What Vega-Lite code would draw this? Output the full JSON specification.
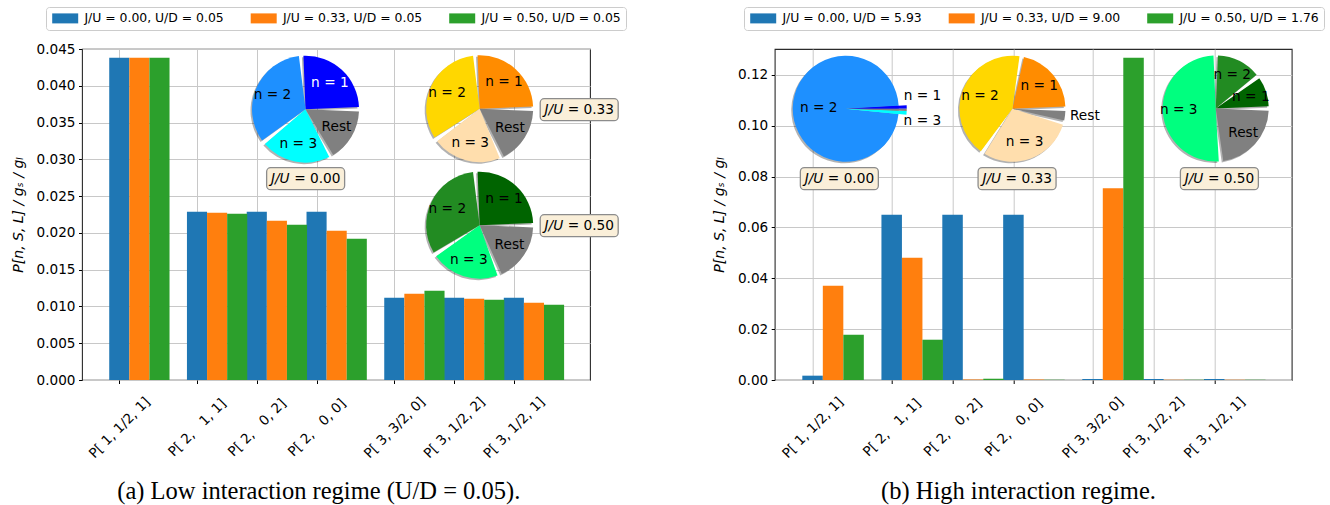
{
  "$schema": "https://vega.github.io/schema/vega-lite/v6.json",
  "background": "white",
  "padding": {"left": 10, "top": 5, "right": 5, "bottom": 5},
  "bounds": "flush",
  "spacing": 184.7,
  "config": {
    "font": "DejaVu Sans",
    "view": {"stroke": "#2b2b2b", "strokeWidth": 1.1},
    "axis": {
      "labelFont": "DejaVu Sans", "labelFontSize": 13.6, "labelColor": "#000000",
      "tickColor": "#000000", "tickSize": 3.5, "tickWidth": 1, "labelPadding": 3.5,
      "domain": false, "gridColor": "#c8c8c8", "gridWidth": 1, "labelOverlap": false,
      "titleFont": "DejaVu Sans", "titleFontSize": 14, "titleFontStyle": "italic",
      "titleFontWeight": "normal", "titleColor": "#000000"
    },
    "legend": {"labelFont": "DejaVu Sans", "labelFontSize": 12.4, "labelColor": "#000000"},
    "title": {"font": "Liberation Serif", "fontSize": 24.5, "fontWeight": "normal", "color": "#000000"}
  },
  "resolve": {
    "scale": {"color": "independent", "x": "independent", "y": "independent", "theta": "independent"},
    "legend": {"color": "independent"}
  },
  "datasets": {
    "barsA": [
      {"pos": 0, "series": "J/U = 0.00, U/D = 0.05", "value": 0.0438},
      {"pos": 0, "series": "J/U = 0.33, U/D = 0.05", "value": 0.0438},
      {"pos": 0, "series": "J/U = 0.50, U/D = 0.05", "value": 0.0438},
      {"pos": 1.3, "series": "J/U = 0.00, U/D = 0.05", "value": 0.02288},
      {"pos": 1.3, "series": "J/U = 0.33, U/D = 0.05", "value": 0.02274},
      {"pos": 1.3, "series": "J/U = 0.50, U/D = 0.05", "value": 0.02261},
      {"pos": 2.3, "series": "J/U = 0.00, U/D = 0.05", "value": 0.02288},
      {"pos": 2.3, "series": "J/U = 0.33, U/D = 0.05", "value": 0.02166},
      {"pos": 2.3, "series": "J/U = 0.50, U/D = 0.05", "value": 0.02111},
      {"pos": 3.3, "series": "J/U = 0.00, U/D = 0.05", "value": 0.02288},
      {"pos": 3.3, "series": "J/U = 0.33, U/D = 0.05", "value": 0.0203},
      {"pos": 3.3, "series": "J/U = 0.50, U/D = 0.05", "value": 0.01921},
      {"pos": 4.6, "series": "J/U = 0.00, U/D = 0.05", "value": 0.01119},
      {"pos": 4.6, "series": "J/U = 0.33, U/D = 0.05", "value": 0.01173},
      {"pos": 4.6, "series": "J/U = 0.50, U/D = 0.05", "value": 0.01214},
      {"pos": 5.6, "series": "J/U = 0.00, U/D = 0.05", "value": 0.01119},
      {"pos": 5.6, "series": "J/U = 0.33, U/D = 0.05", "value": 0.01105},
      {"pos": 5.6, "series": "J/U = 0.50, U/D = 0.05", "value": 0.01092},
      {"pos": 6.6, "series": "J/U = 0.00, U/D = 0.05", "value": 0.01119},
      {"pos": 6.6, "series": "J/U = 0.33, U/D = 0.05", "value": 0.01051},
      {"pos": 6.6, "series": "J/U = 0.50, U/D = 0.05", "value": 0.01024}
    ],
    "barsB": [
      {"pos": 0, "series": "J/U = 0.00, U/D = 5.93", "value": 0.0017},
      {"pos": 0, "series": "J/U = 0.33, U/D = 9.00", "value": 0.0371},
      {"pos": 0, "series": "J/U = 0.50, U/D = 1.76", "value": 0.0178},
      {"pos": 1.3, "series": "J/U = 0.00, U/D = 5.93", "value": 0.065},
      {"pos": 1.3, "series": "J/U = 0.33, U/D = 9.00", "value": 0.0481},
      {"pos": 1.3, "series": "J/U = 0.50, U/D = 1.76", "value": 0.01585},
      {"pos": 2.3, "series": "J/U = 0.00, U/D = 5.93", "value": 0.065},
      {"pos": 2.3, "series": "J/U = 0.33, U/D = 9.00", "value": 0.0002},
      {"pos": 2.3, "series": "J/U = 0.50, U/D = 1.76", "value": 0.0005},
      {"pos": 3.3, "series": "J/U = 0.00, U/D = 5.93", "value": 0.065},
      {"pos": 3.3, "series": "J/U = 0.33, U/D = 9.00", "value": 0.0002},
      {"pos": 3.3, "series": "J/U = 0.50, U/D = 1.76", "value": 0.0001},
      {"pos": 4.6, "series": "J/U = 0.00, U/D = 5.93", "value": 0.0004},
      {"pos": 4.6, "series": "J/U = 0.33, U/D = 9.00", "value": 0.0754},
      {"pos": 4.6, "series": "J/U = 0.50, U/D = 1.76", "value": 0.1268},
      {"pos": 5.6, "series": "J/U = 0.00, U/D = 5.93", "value": 0.0004},
      {"pos": 5.6, "series": "J/U = 0.33, U/D = 9.00", "value": 0.0001},
      {"pos": 5.6, "series": "J/U = 0.50, U/D = 1.76", "value": 0.0001},
      {"pos": 6.6, "series": "J/U = 0.00, U/D = 5.93", "value": 0.0004},
      {"pos": 6.6, "series": "J/U = 0.33, U/D = 9.00", "value": 0.0001},
      {"pos": 6.6, "series": "J/U = 0.50, U/D = 1.76", "value": 0.0001}
    ],
    "piesA": [
      {"pie": "J0", "cx": 3.115, "cy": 0.03682, "n": 1, "key": "J0 n1", "label": "n = 1", "frac": 0.263},
      {"pie": "J0", "cx": 3.115, "cy": 0.03682, "n": 2, "key": "J0 n2", "label": "n = 2", "frac": 0.343},
      {"pie": "J0", "cx": 3.115, "cy": 0.03682, "n": 3, "key": "J0 n3", "label": "n = 3", "frac": 0.224},
      {"pie": "J0", "cx": 3.115, "cy": 0.03682, "n": 4, "key": "Rest", "label": "Rest", "frac": 0.170},
      {"pie": "J33", "cx": 6.028, "cy": 0.03688, "n": 1, "key": "J33 n1", "label": "n = 1", "frac": 0.263},
      {"pie": "J33", "cx": 6.028, "cy": 0.03688, "n": 2, "key": "J33 n2", "label": "n = 2", "frac": 0.334},
      {"pie": "J33", "cx": 6.028, "cy": 0.03688, "n": 3, "key": "J33 n3", "label": "n = 3", "frac": 0.221},
      {"pie": "J33", "cx": 6.028, "cy": 0.03688, "n": 4, "key": "Rest", "label": "Rest", "frac": 0.182},
      {"pie": "J50", "cx": 6.028, "cy": 0.02105, "n": 1, "key": "J50 n1", "label": "n = 1", "frac": 0.263},
      {"pie": "J50", "cx": 6.028, "cy": 0.02105, "n": 2, "key": "J50 n2", "label": "n = 2", "frac": 0.329},
      {"pie": "J50", "cx": 6.028, "cy": 0.02105, "n": 3, "key": "J50 n3", "label": "n = 3", "frac": 0.219},
      {"pie": "J50", "cx": 6.028, "cy": 0.02105, "n": 4, "key": "Rest", "label": "Rest", "frac": 0.189}
    ],
    "piesB": [
      {"pie": "J0", "cx": 0.545, "cy": 0.1067, "n": 1, "key": "J0 n1", "label": "n = 1", "frac": 0.009},
      {"pie": "J0", "cx": 0.545, "cy": 0.1067, "n": 2, "key": "J0 n2", "label": "n = 2", "frac": 0.975},
      {"pie": "J0", "cx": 0.545, "cy": 0.1067, "n": 3, "key": "J0 n3", "label": "n = 3", "frac": 0.010},
      {"pie": "J0", "cx": 0.545, "cy": 0.1067, "n": 4, "key": "Rest", "label": "Rest", "frac": 0.006},
      {"pie": "J33", "cx": 3.284, "cy": 0.1067, "n": 1, "key": "J33 n1", "label": "n = 1", "frac": 0.222},
      {"pie": "J33", "cx": 3.284, "cy": 0.1067, "n": 2, "key": "J33 n2", "label": "n = 2", "frac": 0.433},
      {"pie": "J33", "cx": 3.284, "cy": 0.1067, "n": 3, "key": "J33 n3", "label": "n = 3", "frac": 0.303},
      {"pie": "J33", "cx": 3.284, "cy": 0.1067, "n": 4, "key": "Rest", "label": "Rest", "frac": 0.042},
      {"pie": "J50", "cx": 6.624, "cy": 0.1068, "n": 1, "key": "J50 n1", "label": "n = 1", "frac": 0.103},
      {"pie": "J50", "cx": 6.624, "cy": 0.1068, "n": 2, "key": "J50 n2", "label": "n = 2", "frac": 0.147},
      {"pie": "J50", "cx": 6.624, "cy": 0.1068, "n": 3, "key": "J50 n3", "label": "n = 3", "frac": 0.516},
      {"pie": "J50", "cx": 6.624, "cy": 0.1068, "n": 4, "key": "Rest", "label": "Rest", "frac": 0.234}
    ],
    "boxesA": [
      {"bx": 3.117, "by": 0.02737, "eq": "= 0.00"},
      {"bx": 7.693, "by": 0.03675, "eq": "= 0.33"},
      {"bx": 7.693, "by": 0.02098, "eq": "= 0.50"}
    ],
    "boxesB": [
      {"bx": 0.44, "by": 0.0792, "eq": "= 0.00"},
      {"bx": 3.36, "by": 0.0792, "eq": "= 0.33"},
      {"bx": 6.684, "by": 0.0792, "eq": "= 0.50"}
    ]
  },
  "hconcat": [
    {
      "width": 508,
      "height": 331,
      "title": {"text": "(a) Low interaction regime (U/D = 0.05).", "orient": "bottom", "anchor": "middle", "frame": "bounds", "offset": 20},
      "layer": [
        {
          "data": {"name": "barsA"},
          "transform": [{"filter": {"field": "series", "equal": "J/U = 0.00, U/D = 0.05"}}],
          "mark": {"type": "bar", "orient": "vertical", "width": 20.1, "xOffset": 0},
          "encoding": {
            "x": {"field": "pos", "type": "quantitative",
              "scale": {"domain": [-0.54, 7.79], "nice": false, "zero": false},
              "axis": {"title": null, "values": [0, 1.3, 2.3, 3.3, 4.6, 5.6, 6.6], "grid": true,
                "labelExpr": "['P[ 1, 1/2, 1]','P[ 2,\u00a0\u00a0 1, 1]','P[ 2,\u00a0\u00a0 0, 2]','P[ 2,\u00a0\u00a0 0, 0]','P[ 3, 3/2, 0]','P[ 3, 1/2, 2]','P[ 3, 1/2, 1]'][indexof([0,1.3,2.3,3.3,4.6,5.6,6.6], datum.value)]",
                "labelAngle": -45, "labelAlign": "center", "labelBaseline": "middle", "labelPadding": 44,
                "labelOverlap": false, "labelFlush": false, "labelBound": false}},
            "y": {"field": "value", "type": "quantitative",
              "scale": {"domain": [0, 0.045], "nice": false, "zero": true},
              "axis": {"title": "P[n, S, L] / g\u209b / g\u2097", "values": [0, 0.005, 0.01, 0.015, 0.02, 0.025, 0.03, 0.035, 0.04, 0.045], "tickCount": 10,
                "format": ".3f", "grid": true, "titlePadding": 11, "labelOverlap": false}},
            "color": {"field": "series", "type": "nominal",
              "scale": {
                "domain": ["J/U = 0.00, U/D = 0.05", "J/U = 0.33, U/D = 0.05", "J/U = 0.50, U/D = 0.05", "J0 n1", "J0 n2", "J0 n3", "J33 n1", "J33 n2", "J33 n3", "J50 n1", "J50 n2", "J50 n3", "Rest"],
                "range": ["#1f77b4", "#ff7f0e", "#2ca02c", "#0000ff", "#1e90ff", "#00ffff", "#ff8c00", "#ffd700", "#ffdead", "#006400", "#228b22", "#00ff7f", "#808080"]},
              "legend": {"values": ["J/U = 0.00, U/D = 0.05", "J/U = 0.33, U/D = 0.05", "J/U = 0.50, U/D = 0.05"],
                "title": null, "orient": "none", "legendX": -36, "legendY": -42, "direction": "horizontal",
                "symbolType": "M-1,-1H4.2V1H-1Z", "symbolSize": 100, "symbolStrokeWidth": 0, "symbolOpacity": 1,
                "labelOffset": 21, "columnPadding": 25.5, "padding": 5, "labelLimit": 300,
                "strokeColor": "#cccccc", "fillColor": "#ffffff", "cornerRadius": 3}}
          }
        },
        {
          "data": {"name": "barsA"},
          "transform": [{"filter": {"field": "series", "equal": "J/U = 0.33, U/D = 0.05"}}],
          "mark": {"type": "bar", "orient": "vertical", "width": 20.1, "xOffset": 20.1},
          "encoding": {
            "x": {"field": "pos", "type": "quantitative"},
            "y": {"field": "value", "type": "quantitative", "axis": {"values": [0, 0.005, 0.01, 0.015, 0.02, 0.025, 0.03, 0.035, 0.04, 0.045], "tickCount": 10}},
            "color": {"field": "series", "type": "nominal"}
          }
        },
        {
          "data": {"name": "barsA"},
          "transform": [{"filter": {"field": "series", "equal": "J/U = 0.50, U/D = 0.05"}}],
          "mark": {"type": "bar", "orient": "vertical", "width": 20.1, "xOffset": 40.2},
          "encoding": {
            "x": {"field": "pos", "type": "quantitative"},
            "y": {"field": "value", "type": "quantitative", "axis": {"values": [0, 0.005, 0.01, 0.015, 0.02, 0.025, 0.03, 0.035, 0.04, 0.045], "tickCount": 10}},
            "color": {"field": "series", "type": "nominal"}
          }
        },
        {
          "data": {"name": "piesA"},
          "transform": [{"filter": {"field": "pie", "equal": "J0"}}],
          "encoding": {
            "x": {"field": "cx", "type": "quantitative"},
            "y": {"field": "cy", "type": "quantitative", "axis": {"values": [0, 0.005, 0.01, 0.015, 0.02, 0.025, 0.03, 0.035, 0.04, 0.045], "tickCount": 10}},
            "theta": {"field": "frac", "type": "quantitative", "stack": true, "scale": {"domain": [0, 1], "range": [1.5707963, -4.712389]}},
            "order": {"field": "n", "type": "quantitative"}
          },
          "layer": [
            {"mark": {"type": "arc", "outerRadius": 53.5, "padAngle": 0.085, "xOffset": -1.5, "yOffset": 1.5, "color": "#000000", "opacity": 0.3}, "encoding": {"detail": {"field": "key"}}},
            {"mark": {"type": "arc", "outerRadius": 53.5, "padAngle": 0.085}, "encoding": {"color": {"field": "key", "type": "nominal"}}},
            {"mark": {"type": "text", "radius": 36, "fontSize": 13.7}, "encoding": {"detail": {"field": "key"}, "text": {"field": "label"}, "color": {"condition": {"test": "datum.n === 1", "value": "white"}, "value": "black"}}}
          ]
        },
        {
          "data": {"name": "piesA"},
          "transform": [{"filter": {"field": "pie", "equal": "J33"}}],
          "encoding": {
            "x": {"field": "cx", "type": "quantitative"},
            "y": {"field": "cy", "type": "quantitative", "axis": {"values": [0, 0.005, 0.01, 0.015, 0.02, 0.025, 0.03, 0.035, 0.04, 0.045], "tickCount": 10}},
            "theta": {"field": "frac", "type": "quantitative", "stack": true, "scale": {"domain": [0, 1], "range": [1.5707963, -4.712389]}},
            "order": {"field": "n", "type": "quantitative"}
          },
          "layer": [
            {"mark": {"type": "arc", "outerRadius": 53.5, "padAngle": 0.085, "xOffset": -1.5, "yOffset": 1.5, "color": "#000000", "opacity": 0.3}, "encoding": {"detail": {"field": "key"}}},
            {"mark": {"type": "arc", "outerRadius": 53.5, "padAngle": 0.085}, "encoding": {"color": {"field": "key", "type": "nominal"}}},
            {"mark": {"type": "text", "radius": 36, "fontSize": 13.7, "color": "black"}, "encoding": {"detail": {"field": "key"}, "text": {"field": "label"}}}
          ]
        },
        {
          "data": {"name": "piesA"},
          "transform": [{"filter": {"field": "pie", "equal": "J50"}}],
          "encoding": {
            "x": {"field": "cx", "type": "quantitative"},
            "y": {"field": "cy", "type": "quantitative", "axis": {"values": [0, 0.005, 0.01, 0.015, 0.02, 0.025, 0.03, 0.035, 0.04, 0.045], "tickCount": 10}},
            "theta": {"field": "frac", "type": "quantitative", "stack": true, "scale": {"domain": [0, 1], "range": [1.5707963, -4.712389]}},
            "order": {"field": "n", "type": "quantitative"}
          },
          "layer": [
            {"mark": {"type": "arc", "outerRadius": 53.5, "padAngle": 0.085, "xOffset": -1.5, "yOffset": 1.5, "color": "#000000", "opacity": 0.3}, "encoding": {"detail": {"field": "key"}}},
            {"mark": {"type": "arc", "outerRadius": 53.5, "padAngle": 0.085}, "encoding": {"color": {"field": "key", "type": "nominal"}}},
            {"mark": {"type": "text", "radius": 36, "fontSize": 13.7, "color": "black"}, "encoding": {"detail": {"field": "key"}, "text": {"field": "label"}}}
          ]
        },
        {
          "data": {"name": "boxesA"},
          "encoding": {
            "x": {"field": "bx", "type": "quantitative"},
            "y": {"field": "by", "type": "quantitative", "axis": {"values": [0, 0.005, 0.01, 0.015, 0.02, 0.025, 0.03, 0.035, 0.04, 0.045], "tickCount": 10}}
          },
          "layer": [
            {"mark": {"type": "point", "shape": "M-3.18,-1H3.18A0.365,0.365 0 0 1 3.545,-0.635V0.635A0.365,0.365 0 0 1 3.18,1H-3.18A0.365,0.365 0 0 1 -3.545,0.635V-0.635A0.365,0.365 0 0 1 -3.18,-1Z", "size": 484, "filled": true, "fill": "#faefd9", "stroke": "#8c8c8c", "strokeWidth": 1.3, "opacity": 1}},
            {"mark": {"type": "text", "align": "right", "dx": -16, "fontSize": 13.7, "fontStyle": "italic", "color": "black"}, "encoding": {"text": {"value": "J/U"}}},
            {"mark": {"type": "text", "align": "left", "dx": -11.5, "fontSize": 13.7, "color": "black"}, "encoding": {"text": {"field": "eq"}}}
          ]
        }
      ]
    },
    {
      "width": 517,
      "height": 331,
      "title": {"text": "(b) High interaction regime.", "orient": "bottom", "anchor": "middle", "frame": "bounds", "offset": 20},
      "layer": [
        {
          "data": {"name": "barsB"},
          "transform": [{"filter": {"field": "series", "equal": "J/U = 0.00, U/D = 5.93"}}],
          "mark": {"type": "bar", "orient": "vertical", "width": 20.5, "xOffset": 0},
          "encoding": {
            "x": {"field": "pos", "type": "quantitative",
              "scale": {"domain": [-0.54, 7.79], "nice": false, "zero": false},
              "axis": {"title": null, "values": [0, 1.3, 2.3, 3.3, 4.6, 5.6, 6.6], "grid": true,
                "labelExpr": "['P[ 1, 1/2, 1]','P[ 2,\u00a0\u00a0 1, 1]','P[ 2,\u00a0\u00a0 0, 2]','P[ 2,\u00a0\u00a0 0, 0]','P[ 3, 3/2, 0]','P[ 3, 1/2, 2]','P[ 3, 1/2, 1]'][indexof([0,1.3,2.3,3.3,4.6,5.6,6.6], datum.value)]",
                "labelAngle": -45, "labelAlign": "center", "labelBaseline": "middle", "labelPadding": 44,
                "labelOverlap": false, "labelFlush": false, "labelBound": false}},
            "y": {"field": "value", "type": "quantitative",
              "scale": {"domain": [0, 0.1302], "nice": false, "zero": true},
              "axis": {"title": "P[n, S, L] / g\u209b / g\u2097", "values": [0, 0.02, 0.04, 0.06, 0.08, 0.1, 0.12],
                "format": ".2f", "grid": true, "titlePadding": 11, "labelOverlap": false}},
            "color": {"field": "series", "type": "nominal",
              "scale": {
                "domain": ["J/U = 0.00, U/D = 5.93", "J/U = 0.33, U/D = 9.00", "J/U = 0.50, U/D = 1.76", "J0 n1", "J0 n2", "J0 n3", "J33 n1", "J33 n2", "J33 n3", "J50 n1", "J50 n2", "J50 n3", "Rest"],
                "range": ["#1f77b4", "#ff7f0e", "#2ca02c", "#0000ff", "#1e90ff", "#00ffff", "#ff8c00", "#ffd700", "#ffdead", "#006400", "#228b22", "#00ff7f", "#808080"]},
              "legend": {"values": ["J/U = 0.00, U/D = 5.93", "J/U = 0.33, U/D = 9.00", "J/U = 0.50, U/D = 1.76"],
                "title": null, "orient": "none", "legendX": -30.7, "legendY": -42, "direction": "horizontal",
                "symbolType": "M-1,-1H4.2V1H-1Z", "symbolSize": 100, "symbolStrokeWidth": 0, "symbolOpacity": 1,
                "labelOffset": 21, "columnPadding": 25.5, "padding": 5, "labelLimit": 300,
                "strokeColor": "#cccccc", "fillColor": "#ffffff", "cornerRadius": 3}}
          }
        },
        {
          "data": {"name": "barsB"},
          "transform": [{"filter": {"field": "series", "equal": "J/U = 0.33, U/D = 9.00"}}],
          "mark": {"type": "bar", "orient": "vertical", "width": 20.5, "xOffset": 20.5},
          "encoding": {
            "x": {"field": "pos", "type": "quantitative"},
            "y": {"field": "value", "type": "quantitative"},
            "color": {"field": "series", "type": "nominal"}
          }
        },
        {
          "data": {"name": "barsB"},
          "transform": [{"filter": {"field": "series", "equal": "J/U = 0.50, U/D = 1.76"}}],
          "mark": {"type": "bar", "orient": "vertical", "width": 20.5, "xOffset": 41},
          "encoding": {
            "x": {"field": "pos", "type": "quantitative"},
            "y": {"field": "value", "type": "quantitative"},
            "color": {"field": "series", "type": "nominal"}
          }
        },
        {
          "data": {"name": "piesB"},
          "transform": [{"filter": {"field": "pie", "equal": "J0"}}],
          "encoding": {
            "x": {"field": "cx", "type": "quantitative"},
            "y": {"field": "cy", "type": "quantitative"},
            "theta": {"field": "frac", "type": "quantitative", "stack": true, "scale": {"domain": [0, 1], "range": [1.5707963, -4.712389]}},
            "order": {"field": "n", "type": "quantitative"}
          },
          "layer": [
            {"mark": {"type": "arc", "outerRadius": 53, "padAngle": 0, "xOffset": -1.5, "yOffset": 1.5, "color": "#000000", "opacity": 0.3}, "encoding": {"detail": {"field": "key"}}},
            {"mark": {"type": "arc", "outerRadius": 53, "padAngle": 0}, "encoding": {"color": {"field": "key", "type": "nominal"}}},
            {"mark": {"type": "arc", "outerRadius": 61, "padAngle": 0}, "encoding": {"color": {"field": "key", "type": "nominal"}, "opacity": {"condition": {"test": "datum.n === 2", "value": 0}, "value": 1}}},
            {"mark": {"type": "text", "radius": 27, "fontSize": 13.7, "color": "black"}, "encoding": {"detail": {"field": "key"}, "text": {"condition": {"test": "datum.n === 2", "field": "label"}, "value": ""}}},
            {"mark": {"type": "text", "radius": 58, "align": "left", "dy": -11.5, "fontSize": 13.7, "color": "black"}, "encoding": {"detail": {"field": "key"}, "text": {"condition": {"test": "datum.n === 1", "field": "label"}, "value": ""}}},
            {"mark": {"type": "text", "radius": 58, "align": "left", "dy": 8, "fontSize": 13.7, "color": "black"}, "encoding": {"detail": {"field": "key"}, "text": {"condition": {"test": "datum.n === 3", "field": "label"}, "value": ""}}}
          ]
        },
        {
          "data": {"name": "piesB"},
          "transform": [{"filter": {"field": "pie", "equal": "J33"}}],
          "encoding": {
            "x": {"field": "cx", "type": "quantitative"},
            "y": {"field": "cy", "type": "quantitative"},
            "theta": {"field": "frac", "type": "quantitative", "stack": true, "scale": {"domain": [0, 1], "range": [1.5707963, -4.712389]}},
            "order": {"field": "n", "type": "quantitative"}
          },
          "layer": [
            {"mark": {"type": "arc", "outerRadius": 53, "padAngle": 0.085, "xOffset": -1.5, "yOffset": 1.5, "color": "#000000", "opacity": 0.3}, "encoding": {"detail": {"field": "key"}}},
            {"mark": {"type": "arc", "outerRadius": 53, "padAngle": 0.085}, "encoding": {"color": {"field": "key", "type": "nominal"}}},
            {"mark": {"type": "text", "radius": 35, "fontSize": 13.7, "color": "black"}, "encoding": {"detail": {"field": "key"}, "text": {"condition": {"test": "datum.n !== 4", "field": "label"}, "value": ""}}},
            {"mark": {"type": "text", "radius": 58, "align": "left", "fontSize": 13.7, "color": "black"}, "encoding": {"detail": {"field": "key"}, "text": {"condition": {"test": "datum.n === 4", "field": "label"}, "value": ""}}}
          ]
        },
        {
          "data": {"name": "piesB"},
          "transform": [{"filter": {"field": "pie", "equal": "J50"}}],
          "encoding": {
            "x": {"field": "cx", "type": "quantitative"},
            "y": {"field": "cy", "type": "quantitative"},
            "theta": {"field": "frac", "type": "quantitative", "stack": true, "scale": {"domain": [0, 1], "range": [1.5707963, -4.712389]}},
            "order": {"field": "n", "type": "quantitative"}
          },
          "layer": [
            {"mark": {"type": "arc", "outerRadius": 53, "padAngle": 0.085, "xOffset": -1.5, "yOffset": 1.5, "color": "#000000", "opacity": 0.3}, "encoding": {"detail": {"field": "key"}}},
            {"mark": {"type": "arc", "outerRadius": 53, "padAngle": 0.085}, "encoding": {"color": {"field": "key", "type": "nominal"}}},
            {"mark": {"type": "text", "radius": 37, "fontSize": 13.7, "color": "black"}, "encoding": {"detail": {"field": "key"}, "text": {"field": "label"}}}
          ]
        },
        {
          "data": {"name": "boxesB"},
          "encoding": {
            "x": {"field": "bx", "type": "quantitative"},
            "y": {"field": "by", "type": "quantitative"}
          },
          "layer": [
            {"mark": {"type": "point", "shape": "M-3.18,-1H3.18A0.365,0.365 0 0 1 3.545,-0.635V0.635A0.365,0.365 0 0 1 3.18,1H-3.18A0.365,0.365 0 0 1 -3.545,0.635V-0.635A0.365,0.365 0 0 1 -3.18,-1Z", "size": 484, "filled": true, "fill": "#faefd9", "stroke": "#8c8c8c", "strokeWidth": 1.3, "opacity": 1}},
            {"mark": {"type": "text", "align": "right", "dx": -16, "fontSize": 13.7, "fontStyle": "italic", "color": "black"}, "encoding": {"text": {"value": "J/U"}}},
            {"mark": {"type": "text", "align": "left", "dx": -11.5, "fontSize": 13.7, "color": "black"}, "encoding": {"text": {"field": "eq"}}}
          ]
        }
      ]
    }
  ]
}
